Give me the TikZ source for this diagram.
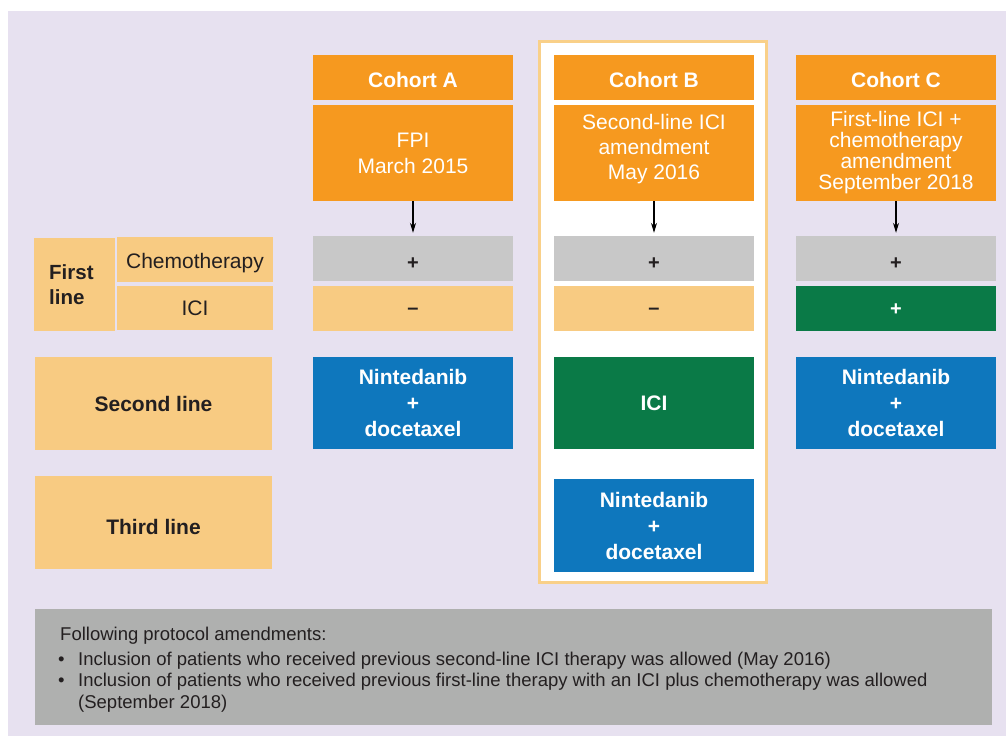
\documentclass[tikz,border=0pt]{standalone}
\usepackage{fontspec}
\setmainfont{Liberation Sans}
\usetikzlibrary{arrows.meta}
\definecolor{lav}{HTML}{E7E1F0}
\definecolor{corange}{HTML}{F6991F}
\definecolor{cgrey}{HTML}{C8C8C8}
\definecolor{lorange}{HTML}{F8CB82}
\definecolor{cgreen}{HTML}{0A7A47}
\definecolor{cblue}{HTML}{0E77BD}
\definecolor{notegrey}{HTML}{AFB0AF}
\definecolor{bborder}{HTML}{F9D089}
\definecolor{dtext}{HTML}{231F20}
\begin{document}
\begin{tikzpicture}[x=1pt,y=-1pt,
  box/.style={rectangle, inner sep=0pt, minimum width=200pt, align=center},
  hdr/.style={box, fill=corange, minimum height=45pt, text=white, text height=20pt, text depth=0pt, font=\fontsize{21}{24}\selectfont\bfseries},
  body/.style={box, fill=corange, minimum height=96pt, text=white},
  chemo/.style={box, fill=cgrey, minimum height=45pt, text=dtext, text height=21pt, text depth=0pt, font=\fontsize{20}{24}\selectfont\bfseries},
  icineg/.style={box, fill=lorange, minimum height=45pt, text=dtext, text height=12pt, text depth=0pt, font=\fontsize{20}{24}\selectfont\bfseries},
  icipos/.style={box, fill=cgreen, minimum height=45pt, text=white, text height=13.4pt, text depth=0pt, font=\fontsize{20}{24}\selectfont\bfseries},
  treat/.style={box, minimum height=92pt, text=white, font=\fontsize{21}{26}\selectfont\bfseries},
  label/.style={rectangle, inner sep=0pt, fill=lorange, text=dtext, align=center},
  arr/.style={draw=black, line width=1.1pt, -{Stealth[length=10pt,width=6pt]}, shorten >=3pt},
  note/.style={anchor=base west, inner sep=0pt, text=dtext, font=\fontsize{18.5}{21}\selectfont}
]
\useasboundingbox (0,0) rectangle (1006,736);
\fill[white] (0,0) rectangle (1006,736);
\fill[lav] (8,11) rectangle (1006,736);

% Cohort B highlight frame
\draw[bborder, line width=3pt, fill=white] (539.5,41.5) rectangle (766.5,582.5);

% Cohort headers
\node[hdr] (hA) at (413,77.5) {Cohort A};
\node[hdr] (hB) at (654,77.5) {Cohort B};
\node[hdr] (hC) at (896,77.5) {Cohort C};

% Cohort bodies
\node[body, font=\fontsize{21}{26}\selectfont] (bA) at (413,153) {FPI\\March 2015};
\node[body, font=\fontsize{21}{25}\selectfont, text depth=12pt] (bB) at (654,153) {Second-line ICI\\amendment\\May 2016};
\node[body, font=\fontsize{21}{21}\selectfont] (bC) at (896,153) {First-line ICI +\\chemotherapy\\amendment\\September 2018};

% First line rows
\node[chemo] (cA) at (413,258.5) {+};
\node[chemo] (cB) at (654,258.5) {+};
\node[chemo] (cC) at (896,258.5) {+};
\node[icineg] (iA) at (413,308.5) {–};
\node[icineg] (iB) at (654,308.5) {–};
\node[icipos] (iC) at (896,308.5) {+};

% Second line
\node[treat, fill=cblue] (sA) at (413,403) {Nintedanib\\+\\docetaxel};
\node[treat, fill=cgreen] (sB) at (654,403) {ICI};
\node[treat, fill=cblue] (sC) at (896,403) {Nintedanib\\+\\docetaxel};

% Third line
\node[treat, fill=cblue, minimum height=93pt] (tB) at (654,525.5) {Nintedanib\\+\\docetaxel};

% Arrows
\draw[arr] (bA.south) -- (cA.north);
\draw[arr] (bB.south) -- (cB.north);
\draw[arr] (bC.south) -- (cC.north);

% Left labels
\node[label, minimum width=81pt, minimum height=93pt] (lFirst) at (74.5,284.5) {};
\node[anchor=west, inner sep=0pt, align=left, text=dtext, font=\fontsize{20.5}{25}\selectfont\bfseries] (lFirstT) at (49,285) {First\\line};
\node[label, minimum width=156pt, minimum height=45pt, text height=22pt, text depth=4.5pt, font=\fontsize{21}{24}\selectfont] (lChemo) at (195,259.5) {Chemotherapy};
\node[label, minimum width=156pt, minimum height=44pt, font=\fontsize{21}{24}\selectfont] (lICI) at (195,308) {ICI};
\node[label, minimum width=237pt, minimum height=93pt, font=\fontsize{21}{24}\selectfont\bfseries] (lSecond) at (153.5,403.5) {Second line};
\node[label, minimum width=237pt, minimum height=93pt, text height=24pt, text depth=0pt, font=\fontsize{21}{24}\selectfont\bfseries] (lThird) at (153.5,522.5) {Third line};

% Note box
\node[rectangle, inner sep=0pt, fill=notegrey, minimum width=957pt, minimum height=116pt] (notebox) at (513.5,667) {};
\node[note] (n1) at (60,640) {Following protocol amendments:};
\node[note] (n2) at (58,665) {\makebox[20pt][l]{•}Inclusion of patients who received previous second-line ICI therapy was allowed (May 2016)};
\node[note] (n3) at (58,686.5) {\makebox[20pt][l]{•}Inclusion of patients who received previous first-line therapy with an ICI plus chemotherapy was allowed};
\node[note] (n4) at (78,708) {(September 2018)};
\end{tikzpicture}
\end{document}
